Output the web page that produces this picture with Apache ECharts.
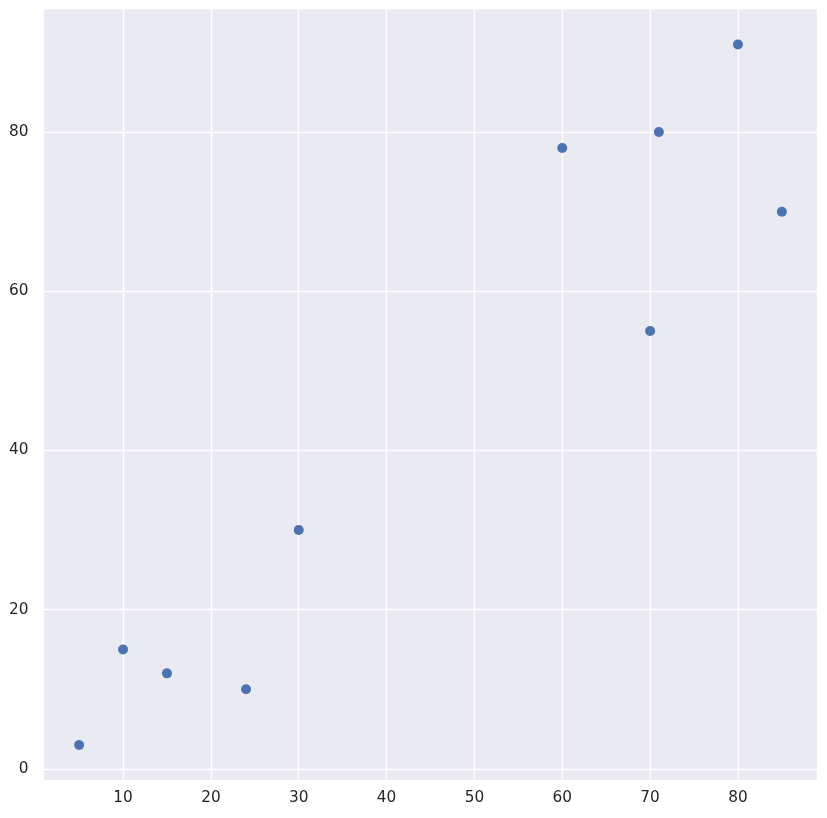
<!DOCTYPE html>
<html><head><meta charset="utf-8">
<script src="https://cdn.jsdelivr.net/npm/echarts@6/dist/echarts.min.js"></script>
<style>html,body{margin:0;padding:0;background:#fff}#c{width:827px;height:818px}</style>
</head><body><div id="c"></div>
<script>
const xValues = [5, 10, 15, 24, 30, 60, 70, 71, 80, 85];
const yValues = [3, 15, 12, 10, 30, 78, 55, 80, 91, 70];
const xTicks = [10, 20, 30, 40, 50, 60, 70, 80];
const yTicks = [0, 20, 40, 60, 80];

const points = xValues.map((x, i) => [x, yValues[i]]);
const chart = echarts.init(document.getElementById('c'), null, {renderer: 'canvas'});
const labelStyle = {color: '#262626', fontFamily: 'DejaVu Sans', fontSize: 15.3};
chart.setOption({
  animation: false,
  backgroundColor: '#ffffff',
  grid: {left: 44, right: 10, top: 9.5, bottom: 38, show: true, backgroundColor: '#EAEAF2', borderWidth: 0},
  xAxis: {
    type: 'value', min: 1, max: 89,
    axisLine: {show: false}, axisTick: {show: false, customValues: xTicks},
    axisLabel: Object.assign({margin: 11, customValues: xTicks}, labelStyle),
    splitLine: {show: true, lineStyle: {color: '#ffffff', width: 1.3}}
  },
  yAxis: {
    type: 'value', min: -1.4, max: 95.4,
    axisLine: {show: false}, axisTick: {show: false, customValues: yTicks},
    axisLabel: Object.assign({margin: 15.5, customValues: yTicks}, labelStyle),
    splitLine: {show: true, lineStyle: {color: '#ffffff', width: 1.3}}
  },
  series: [{
    type: 'scatter', data: points, symbolSize: 10,
    itemStyle: {color: '#4C72B0', opacity: 1}
  }]
});
</script></body></html>
